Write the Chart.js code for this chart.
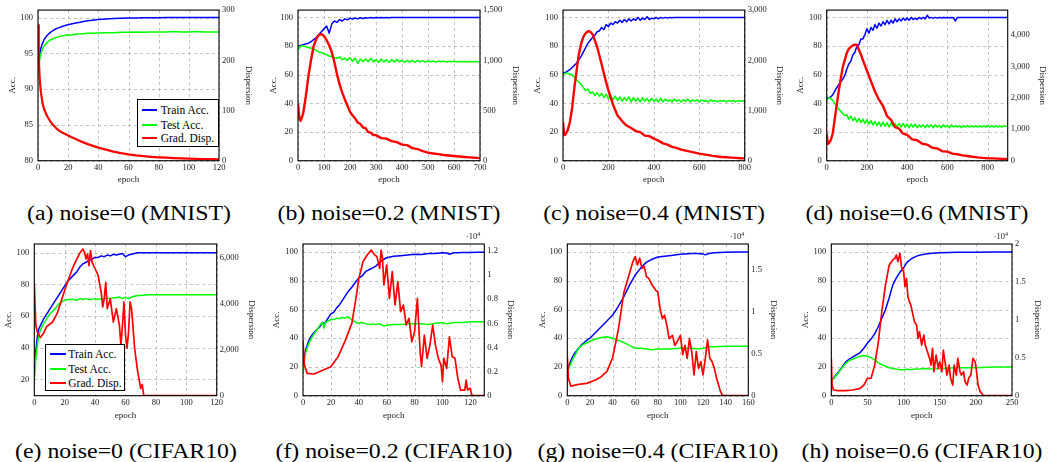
<!DOCTYPE html>
<html>
<head>
<meta charset="utf-8">
<title>Accuracy and gradient dispersion</title>
<script src="https://cdn.jsdelivr.net/npm/chart.js@4.4.0/dist/chart.umd.min.js"></script>
<style>
    body { margin: 0; background: #fff; font-family: "Liberation Serif", serif; }
    #page { position: relative; width: 1048px; height: 462px; overflow: hidden; }
    canvas { position: absolute; }
    .cap { position: absolute; font-size: 20px; white-space: nowrap; color: #000;
           transform: translate(-50%, -50%) scaleX(1.19); }
    .legend { position: absolute; border: 1px solid #000; background: #fff; box-sizing: border-box; }
    .legend .ln { position: absolute; height: 2px; }
    .legend .tx { position: absolute; font-size: 11.5px; line-height: 12px; transform: translateY(-50%); white-space: nowrap; }
</style>
</head>
<body>
<div id="page"></div>
<script>
// ---- data ----
const seriesLabels = ["Train Acc.", "Test Acc.", "Grad. Disp."];

// (a) noise=0 (MNIST)
const aEpoch = [0,0.5,1,1.5,2,3,4,5,6,7,8,10,12,14,16,18,20,22,25,28,30,33,36,40,45,50,55,60,65,70,75,80,85,90,95,100,105,110,115,120];
const aTrain = [92.2,93.6,94.6,95.3,95.8,96.4,96.9,97.2,97.5,97.7,97.9,98.2,98.45,98.6,98.75,98.9,99.0,99.1,99.25,99.35,99.45,99.55,99.62,99.72,99.8,99.86,99.9,99.93,99.95,99.97,99.98,99.99,100,100,100,100,100,100,100,100];
const aTest = [92.0,93.2,94.0,94.6,95.0,95.6,96.0,96.3,96.5,96.7,96.85,97.05,97.2,97.35,97.45,97.5,97.6,97.55,97.7,97.7,97.75,97.8,97.8,97.85,97.9,97.9,97.95,97.95,98.0,97.95,98.0,98.0,98.0,98.05,98.0,98.0,98.05,98.0,98.0,98.0];
const aDisp = [270,210,170,150,135,115,103,96,89,84,79,71,65,60,56,53,50,47,43,39,36.5,33,30,26,22,18,15,12.5,10.5,9,7.8,6.8,6,5.3,4.8,4.3,3.8,3.4,3,2.7];
const aXTicks = [0,20,40,60,80,100,120];
const aAccTicks = [80,85,90,95,100];
const aDispTicks = [0,100,200,300];

// (b) noise=0.2 (MNIST)
const bEpoch = [0,10,20,30,40,50,60,70,80,90, 100,110,120,130,140,150,160,170,180,190, 200,210,220,230,240,250,260,270,280,290,
    300,310,320,330,340,350,360,370,380,390, 400,410,420,430,440,450,460,470,480,490, 500,510,520,530,540,550,560,570,580,590,
    600,610,620,630,640,650,660,670,680,690, 700];
const bTrain = [80,80.5,81,81.5,82,83,84.5,86,88,90, 92,94,89,95.5,97.5,96.5,98.5,97.5,99,98.3, 99.5,98.8,99.6,99,99.8,99.3,99.8,99.5,99.9,99.6,
    99.9,99.7,100,99.8,100,99.8,100,99.9,100,99.9, 100,100,100,100,100,100,100,100,100,100, 100,100,100,100,100,100,100,100,100,100,
    100,100,100,100,100,100,100,100,100,100, 100];
const bTest = [77,80,80,79.5,79,78.5,78,77,76,75.5, 74.5,74,73,72.5,72,71.5,72.5,70.5,71.5,70, 72,69.5,71.5,68,71,69,71,69,71.5,69,
    70.5,68.5,71,69,70.5,68.5,70.5,69,70.5,69, 70,68.5,70,69,70,68.5,70,69,69.8,68.8, 69.6,69,69.6,68.8,69.5,69,69.5,68.8,69.4,69,
    69.4,68.9,69.3,69,69.3,68.9,69.2,69,69.2,69, 69];
const bDispEpoch = [0,5,10,20,30,40,50,60,70,80,90,100,110,120,130,140,150,160,170,180,190,200,210,220,230,240,250,260,270,280,290,300,320,340,360,380,400,420,440,460,480,500,520,540,560,580,600,620,640,660,680,700];
const bDisp = [568,430,396,470,640,840,1000,1140,1210,1250,1262,1240,1200,1150,1080,980,860,760,680,610,550,486,450,420,380,365,330,325,285,280,255,255,225,220,195,185,160,155,125,115,95,80,72,65,57,52,47,42,37,33,30,26];
const bXTicks = [0,100,200,300,400,500,600,700];
const bAccTicks = [0,20,40,60,80,100];
const bDispTicks = [0,500,1000,1500];

// (c) noise=0.4 (MNIST)
const cEpoch = [0,10,20,30,40,50,60,70,80,90, 100,110,120,130,140,150,160,170,180,190, 200,210,220,230,240,250,260,270,280,290,
    300,310,320,330,340,350,360,370,380,390, 400,410,420,430,440,450,460,470,480,490, 500,510,520,530,540,550,560,570,580,590,
    600,610,620,630,640,650,660,670,680,690, 700,710,720,730,740,750,760,770,780,790, 800];
const cTrain = [61,61.5,62.5,63.5,65,66.5,68,70.5,73,76, 79,82,84,86,87.5,90,90.5,93,91.5,95, 93.5,96,95,97,96,98,96.5,98.5,97,99,
    97.5,99,98,100,98,99.5,98.5,100.5,98.5,99.5, 99,100,99,100,99.5,100,99.5,100,99.8,100, 100,100,100,100,100,100,100,100,100,100,
    100,100,100,100,100,100,100,100,100,100, 100,100,100,100,100,100,100,100,100,100, 100];
const cTest = [60,61,61,60.5,60,58,56,55,53,51, 49,50,47,48,45.5,47.5,45,47,44,46.5, 43,45.5,42.5,45,42,44.5,41.5,44,42,44.5,
    41,44,41.5,43.5,41,44,41.5,43.5,41,43.5, 41.5,43,41,43.5,41,43,41.5,42.5,41,43, 41.5,42.5,41,42.5,41.5,43,41,42.5,41.5,42.5,
    41,42.5,41.5,42,41,42.5,41.5,42,41,42, 41.5,42,41,42,41.5,42,41,42,41.5,41.8, 41.5];
const cDispEpoch = [0,5,10,20,30,40,50,60,70,80,90,100,110,120,130,140,150,160,170,180,190,200,220,240,260,280,300,320,340,360,380,400,420,440,460,480,500,520,540,560,580,600,620,640,660,680,700,720,740,760,780,800];
const cDisp = [773,509,520,600,760,1040,1450,1800,2128,2330,2470,2540,2578,2570,2520,2400,2270,2100,1920,1740,1560,1400,1120,900,790,700,650,590,570,500,490,440,400,345,320,275,255,220,200,180,160,140,125,110,95,85,75,68,62,56,50,46];
const cXTicks = [0,200,400,600,800];
const cAccTicks = [0,20,40,60,80,100];
const cDispTicks = [0,1000,2000,3000];

// (d) noise=0.6 (MNIST)
const dEpoch = [0,10,20,30,40,50,60,70,80,90, 100,110,120,130,140,150,160,170,180,190, 200,210,220,230,240,250,260,270,280,290,
    300,310,320,330,340,350,360,370,380,390, 400,410,420,430,440,450,460,470,480,490, 500,510,520,530,540,550,560,570,580,590,
    600,610,620,630,640,650,660,670,680,690, 700,710,720,730,740,750,760,770,780,790, 800,810,820,830,840,850,860,870,880,890, 900];
const dTrain = [44,44,44.5,46,48.5,51,53,55,57,59.5, 64,67.5,69.5,74,75.5,80,81,85,85,88, 92,89,93,91,95,92.5,96,94,97,95,
    98,95.5,98,96,99,97,99,97.5,99.5,98, 99.5,98,100,98.5,99.5,98.5,100,99,100,99, 101.5,99.5,100,99.5,100,99.5,100,99.8,100,99.8,
    100,99.8,100,99.8,97.5,100,100,100,100,100, 100,100,100,100,100,100,100,100,100,100, 100,100,100,100,100,100,100,100,100,100, 100];
const dTest = [42,44,43.5,42,40,38,36,34.5,33,31.5, 32,29,31,28,30,27,29.5,26.5,29,26, 28.5,25.5,28,25,27.5,24.5,27,24,27,24,
    26.5,23.5,26.5,24,26,23.5,26,23.5,26,23.5, 25.5,23,25.5,23.5,25.5,23,25,23.5,25,23, 25,23.5,25,23,25,23.5,24.5,23,25,23.5,
    24.5,23,25,23.5,24.5,23.5,24.5,23,24.5,23.5, 24.5,23.5,24.5,23.5,24.5,23.5,24.5,23.5,24.5,23.5, 24.5,23.5,24.5,23.5,24.5,23.5,24.5,23.5,24.5,24, 24];
const dDispEpoch = [0,5,10,20,30,40,50,60,70,80,90,100,110,120,130,140,150,160,170,180,190,200,220,240,260,280,300,320,340,360,380,400,425,450,475,500,525,550,575,600,625,650,675,700,725,750,775,800,825,850,875,900];
const dDisp = [865,528,560,650,865,1320,1780,2220,2620,2976,3200,3430,3560,3620,3665,3690,3680,3530,3380,3200,3030,2860,2530,2200,1940,1740,1420,1300,1070,1020,860,820,680,650,540,510,410,390,300,290,225,205,170,150,125,105,90,80,74,66,58,53];
const dXTicks = [0,200,400,600,800];
const dAccTicks = [0,20,40,60,80,100];
const dDispTicks = [0,1000,2000,3000,4000];

// (e) noise=0 (CIFAR10)
const eEpoch = [0,1,2,3,4,5,6,7,8,9,10,12,14,16,18,20,22,24,26,28,30,32,34,36,38,40,42,44,46,48,50,52,54,56,58,60,62,64,66,68,70,75,80,90,100,110,120];
const eTrain = [22,38,47,52,54,56,58,59.5,61,62.5,64,67,70,73,76,79,82,84,86,88,91,93,94,95,96,97,97,98,97.5,98.5,98,99,98.5,99,99.5,97.5,98.5,99,99.5,100,100,100,100,100,100,100,100];
const eTest = [20,33,42,48,51,53,55,56.5,58,59.5,61,63,65,67.5,69,70,70.5,70.5,70.5,70,71,70.5,71,70.5,70.5,71,70.5,71,71,71.5,71,71.5,71.5,72,71,72,71,72,72.5,73,73,73.5,73.5,73.5,73.5,73.5,73.5];
const eDispEpoch = [0,1,2,4,6,8,12,15,20,25,28,30,32,33,34,35,36,37,38,40,42,44,45,46,47,48,50,52,54,56,57,58,59,60,61,62,63,64,66,68,70,71,72,73,120];
const eDisp = [4884,3072,2780,2536,2710,3000,3215,3580,4600,5540,5970,6230,6400,6260,5970,6190,5680,6330,5830,5540,5250,4520,3870,4230,4950,3800,4230,3215,3800,3070,2200,3070,4090,2650,2070,2780,4090,3800,2070,1050,320,490,0,0,0];
const eXTicks = [0,20,40,60,80,100,120];
const eAccTicks = [20,40,60,80,100];
const eDispTicks = [0,2000,4000,6000];

// (f) noise=0.2 (CIFAR10), dispersion in units of 10^4
const fEpoch = [0,1,2,3,4,5,6,8,10,12,14,15,16,18,20,22,24,25,26,28,30,32,35,38,40,42,45,48,50,52,55,58,60,65,70,75,80,85,90,95,100,103,105,108,110,115,120,125,130];
const fTrain = [21,28,32,35,38,40,41.5,44,46,48,51,50,51,54,57,58,61,62,63,66,69,72,75.5,79.5,82,83,86.5,88,89,90,93,95,96,97,97.5,98,98.5,98.3,99,99,99.5,99.3,98.5,99.5,99.5,99.6,99.7,99.8,99.8];
const fTest = [15,25,30,33,36,38,40,43,46,49,51,47,51,52,53,53,54,54,53.5,54.5,54,55,53,51,50.5,51,50,49.5,50,49.5,50,48.5,49,49.5,49.5,50,50,50,49.5,50.5,51,50,50.5,51,51,51,51.5,51.5,51.5];
const fDispEpoch = [0,1,3,8,12,20,25,30,35,38,40,43,46,49,51,53,55,56,57,58,60,62,64,66,68,70,72,74,76,78,80,82,84,85,87,89,91,93,95,97,99,100,101,103,105,107,109,111,113,116,117,118,120,121,123,130];
const fDisp = [0.46,0.254,0.185,0.18,0.2,0.24,0.32,0.448,0.6,0.807,0.97,1.11,1.167,1.208,1.172,1.153,1.056,1.208,1.139,0.918,1.084,0.807,1.029,0.752,0.946,0.697,0.752,0.586,0.641,0.448,0.531,0.807,0.365,0.24,0.503,0.31,0.42,0.586,0.42,0.31,0.254,0.116,0.31,0.227,0.489,0.323,0.31,0.144,0.047,0.047,0.13,0.047,0.061,0.005,0,0];
const fXTicks = [0,20,40,60,80,100,120];
const fAccTicks = [0,20,40,60,80,100];
const fDispTicks = [0,0.2,0.4,0.6,0.8,1,1.2];

// (g) noise=0.4 (CIFAR10)
const gEpoch = [0,2,4,6,8,10,12,15,18,20,25,30,35,40,45,50,55,60,65,70,75,80,90,100,110,115,120,122,125,130,140,150,160];
const gTrain = [18,22,26,29,31,33,35,37,39,40,44,48,52,56,62,69,77,84,89,93,95,96.5,97.5,98.5,99,99,98.7,98,99,99.5,99.8,100,100];
const gTest = [16,20,24,27,30,33,34.5,36,37,38,39.5,40.5,41,40,38.5,37,35,33,33,32.5,32,32.5,32.5,33,33,32.5,33,33.5,34,34,34.5,34.5,34.5];
const gDispEpoch = [0,1,3,10,17,25,30,35,40,45,50,55,58,60,62,64,66,68,70,72,75,78,80,82,84,86,88,90,93,95,97,100,102,104,106,108,110,112,114,116,118,120,122,124,126,128,130,132,135,137,140,160];
const gDisp = [0.466,0.207,0.115,0.135,0.147,0.187,0.227,0.29,0.45,0.78,1.23,1.46,1.6,1.66,1.56,1.64,1.52,1.54,1.42,1.4,1.32,1.26,1.24,1.04,0.92,0.96,0.84,0.68,0.72,0.6,0.64,0.72,0.49,0.6,0.446,0.68,0.525,0.247,0.525,0.326,0.406,0.247,0.446,0.665,0.446,0.406,0.326,0.207,0.068,0.008,0,0];
const gXTicks = [0,20,40,60,80,100,120,140,160];
const gAccTicks = [0,20,40,60,80,100];
const gDispTicks = [0,0.5,1,1.5];

// (h) noise=0.6 (CIFAR10)
const hEpoch = [0,5,10,15,20,25,30,35,40,45,50,55,60,65,70,75,80,85,90,95,100,105,110,115,120,130,140,150,175,200,225,250];
const hTrain = [10,13.5,16.5,20,23.5,25.5,27,28.5,30,33,36.5,39.5,43,48,54,60,68,77,82,86,89,93,95,96.5,97.5,98.7,99.2,99.5,99.8,99.8,100,100];
const hTest = [10,13,16,19.5,22.5,24.5,25.5,26.5,27.5,28,27.5,26.5,25,23,21.5,20.5,19.5,19,18.5,18,18,18.5,18,18.5,18.5,19,18.5,19,19.5,19.5,20,20];
const hDispEpoch = [0,1,3,10,20,30,40,45,50,55,60,65,70,75,80,85,88,90,92,95,97,100,102,104,106,108,110,112,115,118,120,122,125,128,130,133,136,138,140,142,145,148,150,153,155,158,160,163,165,168,170,173,175,178,180,183,185,188,190,193,196,199,201,203,206,210,213,250];
const hDisp = [0.49,0.14,0.075,0.066,0.066,0.075,0.097,0.14,0.229,0.23,0.40,0.70,1.12,1.46,1.72,1.79,1.81,1.855,1.767,1.877,1.70,1.635,1.437,1.547,1.305,1.24,1.196,1.108,0.976,0.932,0.756,0.844,0.668,0.8,0.668,0.58,0.492,0.404,0.624,0.316,0.536,0.36,0.448,0.316,0.602,0.404,0.272,0.404,0.229,0.141,0.404,0.272,0.492,0.316,0.272,0.316,0.185,0.141,0.229,0.272,0.492,0.448,0.316,0.141,0.053,0.009,0,0];
const hXTicks = [0,50,100,150,200,250];
const hAccTicks = [0,20,40,60,80,100];
const hDispTicks = [0,0.5,1,1.5,2];

// ---- layout of the 2x4 grid (page pixels) ----
const panels = [
    { cx: 0,   cy: 0, L: 38,    R: 219,    T: 9.5, B: 160.7, accX: 12.7,  dispX: 248.3,  epochY: 180,
      xMax: 120, xTicks: aXTicks, accMin: 80, accMax: 101.05, accTicks: aAccTicks, dispMax: 300, dispTicks: aDispTicks,
      train: [aEpoch, aTrain], test: [aEpoch, aTest], disp: [aEpoch, aDisp], caption: "(a) noise=0 (MNIST)", redW: 2.2 },
    { cx: 262, cy: 0, L: 298,   R: 480,    T: 9.5, B: 160.7, accX: 273.7, dispX: 515.3,  epochY: 180,
      xMax: 700, xTicks: bXTicks, accMin: 0, accMax: 105.1, accTicks: bAccTicks, dispMax: 1500, dispTicks: bDispTicks,
      train: [bEpoch, bTrain], test: [bEpoch, bTest], disp: [bDispEpoch, bDisp], caption: "(b) noise=0.2 (MNIST)", redW: 2.4 },
    { cx: 524, cy: 0, L: 563,   R: 744.7,  T: 9.5, B: 160.7, accX: 538,   dispX: 779,    epochY: 180,
      xMax: 800, xTicks: cXTicks, accMin: 0, accMax: 105.1, accTicks: cAccTicks, dispMax: 3000, dispTicks: cDispTicks,
      train: [cEpoch, cTrain], test: [cEpoch, cTest], disp: [cDispEpoch, cDisp], caption: "(c) noise=0.4 (MNIST)", redW: 2.4 },
    { cx: 786, cy: 0, L: 826.7, R: 1007.7, T: 9.5, B: 160.7, accX: 801,   dispX: 1042.7, epochY: 180,
      xMax: 900, xTicks: dXTicks, accMin: 0, accMax: 105.1, accTicks: dAccTicks, dispMax: 4790, dispTicks: dDispTicks,
      train: [dEpoch, dTrain], test: [dEpoch, dTest], disp: [dDispEpoch, dDisp], caption: "(d) noise=0.6 (MNIST)", redW: 2.4 },
    { cx: 0,   cy: 225, L: 34.3,  R: 216.7, T: 244, B: 395.7, accX: 8.3,   dispX: 251.7,  epochY: 415.7,
      xMax: 120, xTicks: eXTicks, accMin: 9.7, accMax: 105.5, accTicks: eAccTicks, dispMax: 6620, dispTicks: eDispTicks,
      train: [eEpoch, eTrain], test: [eEpoch, eTest], disp: [eDispEpoch, eDisp], caption: "(e) noise=0 (CIFAR10)", redW: 1.7 },
    { cx: 262, cy: 225, L: 303,   R: 484.3, T: 244, B: 395.7, accX: 277,   dispX: 510.3,  epochY: 415.7,
      xMax: 130, xTicks: fXTicks, accMin: 0, accMax: 105.6, accTicks: fAccTicks, dispMax: 1.258, dispTicks: fDispTicks,
      train: [fEpoch, fTrain], test: [fEpoch, fTest], disp: [fDispEpoch, fDisp], caption: "(f) noise=0.2 (CIFAR10)", redW: 1.7, exp: true },
    { cx: 524, cy: 225, L: 567.3, R: 748.3, T: 244, B: 395.7, accX: 542.3, dispX: 773.3,  epochY: 415.7,
      xMax: 160, xTicks: gXTicks, accMin: 0, accMax: 105.6, accTicks: gAccTicks, dispMax: 1.81, dispTicks: gDispTicks,
      train: [gEpoch, gTrain], test: [gEpoch, gTest], disp: [gDispEpoch, gDisp], caption: "(g) noise=0.4 (CIFAR10)", redW: 1.7, exp: true },
    { cx: 786, cy: 225, L: 831.3, R: 1012,  T: 244, B: 395.7, accX: 806,   dispX: 1037.7, epochY: 415.7,
      xMax: 250, xTicks: hXTicks, accMin: 0, accMax: 105.6, accTicks: hAccTicks, dispMax: 2, dispTicks: hDispTicks,
      train: [hEpoch, hTrain], test: [hEpoch, hTest], disp: [hDispEpoch, hDisp], caption: "(h) noise=0.6 (CIFAR10)", redW: 1.7, exp: true }
];

const colors = ["#0000ff", "#00ff00", "#ff0000"];
const CW = 262, CH = 200;
const tickFont = { family: "Liberation Serif", size: 8.5 };
const titleFont = { family: "Liberation Serif", size: 9, lineHeight: 1 };
const page = document.getElementById("page");

function toPoints(xs, ys) {
    return xs.map((x, i) => ({ x: x, y: ys[i] }));
}

function fixedTicks(values) {
    return function(scale) {
        scale.ticks = values.map(v => ({ value: v }));
    };
}

// dashed grid under the lines, taken from the x and left y scale ticks
const gridPlugin = {
    id: "dashgrid",
    beforeDatasetsDraw(chart) {
        const a = chart.chartArea;
        const ctx = chart.ctx;
        const xs = chart.scales.x, ys = chart.scales.y;
        ctx.save();
        ctx.strokeStyle = "#b4b4b4";
        ctx.lineWidth = 0.8;
        ctx.setLineDash([3, 3]);
        ctx.beginPath();
        xs.ticks.forEach(t => {
            const px = Math.round(xs.getPixelForValue(t.value)) + 0.5;
            ctx.moveTo(px, a.top);
            ctx.lineTo(px, a.bottom);
        });
        ys.ticks.forEach(t => {
            const py = Math.round(ys.getPixelForValue(t.value)) + 0.5;
            ctx.moveTo(a.left, py);
            ctx.lineTo(a.right, py);
        });
        ctx.stroke();
        ctx.restore();
    }
};

// black frame around the plot area, plus the "·10^4" note on some right axes
const framePlugin = {
    id: "frame",
    afterDatasetsDraw(chart, args, opts) {
        const a = chart.chartArea;
        const ctx = chart.ctx;
        ctx.save();
        ctx.strokeStyle = "#000";
        ctx.lineWidth = 1.1;
        ctx.setLineDash([]);
        ctx.strokeRect(a.left, a.top, a.right - a.left, a.bottom - a.top);
        if (opts.exp) {
            ctx.fillStyle = "#222";
            ctx.textBaseline = "middle";
            ctx.textAlign = "right";
            ctx.font = "6px 'Liberation Serif'";
            const w4 = ctx.measureText("4").width;
            ctx.fillText("4", a.right - 4, a.top - 9.5);
            ctx.font = "8.5px 'Liberation Serif'";
            ctx.fillText("\u00b710", a.right - 4 - w4, a.top - 7.5);
        }
        ctx.restore();
    }
};

function makePanel(p) {
    const canvas = document.createElement("canvas");
    canvas.width = CW;
    canvas.height = CH;
    canvas.style.left = p.cx + "px";
    canvas.style.top = p.cy + "px";
    page.appendChild(canvas);

    new Chart(canvas.getContext("2d"), {
        type: "line",
        data: {
            datasets: [
                { label: seriesLabels[0], data: toPoints(p.train[0], p.train[1]), yAxisID: "y",
                  borderColor: colors[0], borderWidth: 1.5, order: 3 },
                { label: seriesLabels[1], data: toPoints(p.test[0], p.test[1]), yAxisID: "y",
                  borderColor: colors[1], borderWidth: 1.5, order: 2 },
                { label: seriesLabels[2], data: toPoints(p.disp[0], p.disp[1]), yAxisID: "y1",
                  borderColor: colors[2], borderWidth: p.redW, order: 1 }
            ]
        },
        options: {
            responsive: false,
            animation: false,
            devicePixelRatio: 1,
            elements: { point: { radius: 0 }, line: { tension: 0, borderJoinStyle: "round" } },
            layout: { autoPadding: false, padding: { top: p.T - p.cy, left: 0, right: 0, bottom: 0 } },
            plugins: { legend: { display: false }, tooltip: { enabled: false }, frame: { exp: !!p.exp } },
            scales: {
                x: {
                    type: "linear", min: 0, max: p.xMax,
                    afterBuildTicks: fixedTicks(p.xTicks),
                    afterFit(s) { s.height = p.cy + CH - p.B; },
                    grid: { display: false, drawTicks: false },
                    border: { display: false },
                    ticks: { font: tickFont, color: "#222", padding: 1.5, maxRotation: 0, autoSkip: false },
                    title: { display: true, text: "epoch", font: titleFont, color: "#222",
                             padding: { top: 0, bottom: p.cy + CH - p.epochY - 4.5 } }
                },
                y: {
                    position: "left", min: p.accMin, max: p.accMax,
                    afterBuildTicks: fixedTicks(p.accTicks),
                    afterFit(s) { s.width = p.L - p.cx; },
                    grid: { display: false, drawTicks: false },
                    border: { display: false },
                    ticks: { font: tickFont, color: "#222", padding: 5 },
                    title: { display: true, text: "Acc.", font: titleFont, color: "#222",
                             padding: { top: p.accX - p.cx - 4.5, bottom: 0 } }
                },
                y1: {
                    position: "right", min: 0, max: p.dispMax,
                    afterBuildTicks: fixedTicks(p.dispTicks),
                    afterFit(s) { s.width = p.cx + CW - p.R; },
                    grid: { display: false, drawTicks: false },
                    border: { display: false },
                    ticks: { font: tickFont, color: "#222", padding: 3,
                             callback: v => v.toLocaleString("en-US") },
                    title: { display: true, text: "Dispersion", font: titleFont, color: "#222",
                             padding: { top: p.cx + CW - p.dispX - 4.5, bottom: 0 } }
                }
            }
        },
        plugins: [gridPlugin, framePlugin]
    });

    const cap = document.createElement("div");
    cap.className = "cap";
    cap.textContent = p.caption;
    cap.style.left = ((p.L + p.R) / 2) + "px";
    cap.style.top = (p.cy === 0 ? 213 : 451) + "px";
    page.appendChild(cap);
}

// legend box drawn as html on top of the chart
function makeLegend(box) {
    const d = document.createElement("div");
    d.className = "legend";
    d.style.left = box.x + "px";
    d.style.top = box.y + "px";
    d.style.width = box.w + "px";
    d.style.height = box.h + "px";
    seriesLabels.forEach((label, i) => {
        const ln = document.createElement("div");
        ln.className = "ln";
        ln.style.background = colors[i];
        ln.style.left = box.lineX + "px";
        ln.style.width = box.lineW + "px";
        ln.style.top = (box.rows[i] - 1) + "px";
        d.appendChild(ln);
        const tx = document.createElement("div");
        tx.className = "tx";
        tx.textContent = label;
        tx.style.left = box.textX + "px";
        tx.style.top = box.rows[i] + "px";
        d.appendChild(tx);
    });
    page.appendChild(d);
}

Chart.defaults.font.family = "Liberation Serif";

panels.forEach(makePanel);

makeLegend({ x: 136.7, y: 99.3, w: 82.3, h: 47.4, lineX: 4, lineW: 15, textX: 23, rows: [9.7, 24.4, 38] });
makeLegend({ x: 45, y: 344, w: 80.3, h: 46.7, lineX: 4, lineW: 16, textX: 22.3, rows: [9.3, 23.7, 37.7] });
</script>
</body>
</html>
